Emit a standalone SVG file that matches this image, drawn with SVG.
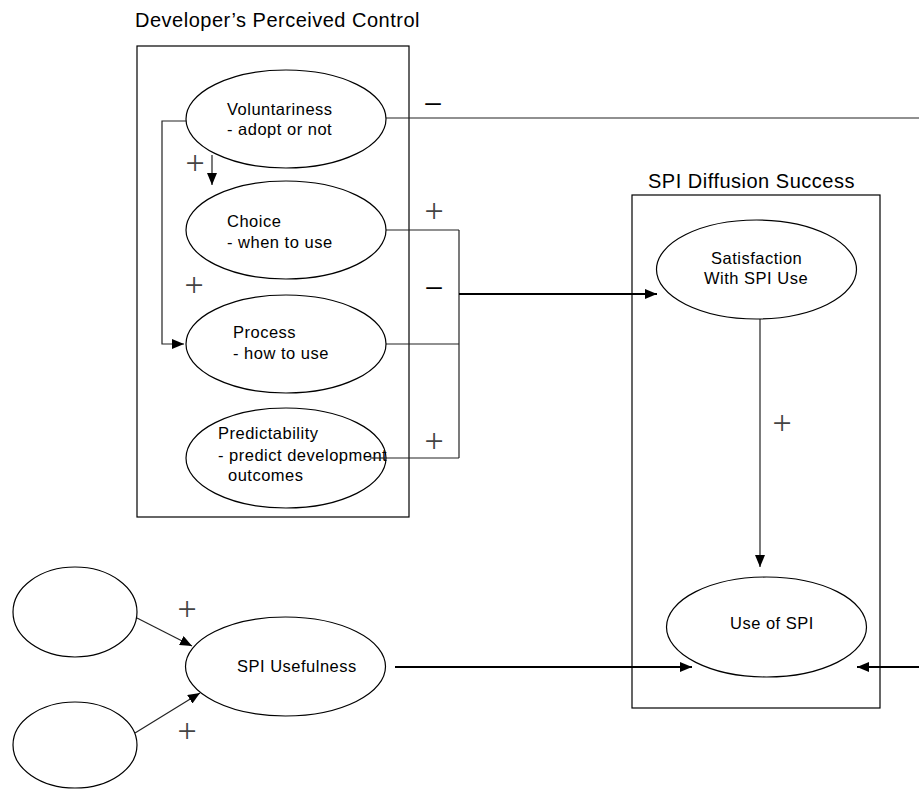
<svg xmlns="http://www.w3.org/2000/svg" width="919" height="789" viewBox="0 0 919 789">
<defs>
<style>
.box{fill:none;stroke:#000;stroke-width:1.2}
.ell{fill:#fff;stroke:#000;stroke-width:1.2}
.t{font-family:"Liberation Sans",Arial,sans-serif;font-size:16.5px;letter-spacing:0.5px;fill:#000}
.title{font-family:"Liberation Sans",Arial,sans-serif;font-size:20px;letter-spacing:0.5px;fill:#000}
.ln{fill:none;stroke:#222;stroke-width:1.2}
.lnb{fill:none;stroke:#000;stroke-width:2}
.plus{font-family:"Liberation Serif","Times New Roman",serif;font-size:34px;fill:#444;text-anchor:middle}
.minus{font-family:"Liberation Sans",Arial,sans-serif;font-size:28px;fill:#000;text-anchor:middle}
</style>
<marker id="ah" viewBox="0 0 12 10" refX="12" refY="5" markerWidth="12" markerHeight="10" markerUnits="userSpaceOnUse" orient="auto">
<path d="M0,0 L12,5 L0,10 Z" fill="#000"/>
</marker>
</defs>
<rect width="919" height="789" fill="#fff"/>

<g id="group-control">
<text class="title" x="135" y="27">Developer’s Perceived Control</text>
<rect class="box" x="137" y="46" width="272" height="471"/>
</g>
<g id="group-diffusion">
<text class="title" x="648" y="188">SPI Diffusion Success</text>
<rect class="box" x="632" y="195" width="248" height="513"/>
</g>

<g id="connectors">
<polyline class="ln" points="186,121 162,121 162,344 184,344" marker-end="url(#ah)"/>
<line class="ln" x1="212" y1="155" x2="212" y2="185" marker-end="url(#ah)"/>
<line class="ln" x1="386" y1="118" x2="919" y2="118"/>
<line class="ln" x1="385" y1="230" x2="459" y2="230"/>
<line class="ln" x1="385" y1="344" x2="459" y2="344"/>
<line class="ln" x1="459" y1="230" x2="459" y2="458"/>
<line class="ln" x1="386" y1="458" x2="459" y2="458"/>
<line class="lnb" x1="459" y1="294" x2="657" y2="294" marker-end="url(#ah)"/>
<line class="ln" x1="760" y1="319" x2="760" y2="567" marker-end="url(#ah)"/>
<line class="lnb" x1="395" y1="667" x2="692" y2="667" marker-end="url(#ah)"/>
<line class="lnb" x1="919" y1="667" x2="857" y2="667" marker-end="url(#ah)"/>
<line class="ln" x1="137" y1="618" x2="192" y2="646" marker-end="url(#ah)"/>
<line class="ln" x1="135" y1="733" x2="200" y2="693" marker-end="url(#ah)"/>
<text class="plus" x="195" y="174">+</text>
<text class="plus" x="194" y="296">+</text>
<text class="minus" x="433" y="111">–</text>
<text class="plus" x="434" y="222">+</text>
<text class="minus" x="434" y="295">–</text>
<text class="plus" x="434" y="452">+</text>
<text class="plus" x="782" y="434">+</text>
<text class="plus" x="187" y="620">+</text>
<text class="plus" x="187" y="742">+</text>
</g>

<g id="voluntariness">
<ellipse class="ell" cx="286" cy="119" rx="100" ry="49"/>
<text class="t" x="227" y="115">Voluntariness</text>
<text class="t" x="227" y="135">- adopt or not</text>
</g>
<g id="choice">
<ellipse class="ell" cx="286" cy="230" rx="100" ry="49"/>
<text class="t" x="227" y="227">Choice</text>
<text class="t" x="227" y="248">- when to use</text>
</g>
<g id="process">
<ellipse class="ell" cx="286" cy="344" rx="100" ry="49"/>
<text class="t" x="233" y="338">Process</text>
<text class="t" x="233" y="359">- how to use</text>
</g>
<g id="predictability">
<ellipse class="ell" cx="286" cy="458" rx="100" ry="50"/>
<text class="t" x="218" y="439">Predictability</text>
<text class="t" x="218" y="461">- predict development</text>
<text class="t" x="228" y="481">outcomes</text>
</g>
<line class="ln" x1="370" y1="458" x2="386" y2="458"/>

<g id="satisfaction">
<ellipse class="ell" cx="756.5" cy="269.5" rx="100" ry="49.5"/>
<text class="t" x="711" y="264">Satisfaction</text>
<text class="t" x="704" y="284">With SPI Use</text>
</g>
<g id="use-of-spi">
<ellipse class="ell" cx="766.5" cy="627" rx="100" ry="50"/>
<text class="t" x="730" y="629">Use of SPI</text>
</g>
<g id="spi-usefulness">
<ellipse class="ell" cx="285.5" cy="666.5" rx="100" ry="49.5"/>
<text class="t" x="237" y="672">SPI Usefulness</text>
</g>
<g id="input-1">
<ellipse class="ell" cx="75" cy="612" rx="62" ry="45"/>
</g>
<g id="input-2">
<ellipse class="ell" cx="75" cy="745" rx="62" ry="43"/>
</g>
</svg>
